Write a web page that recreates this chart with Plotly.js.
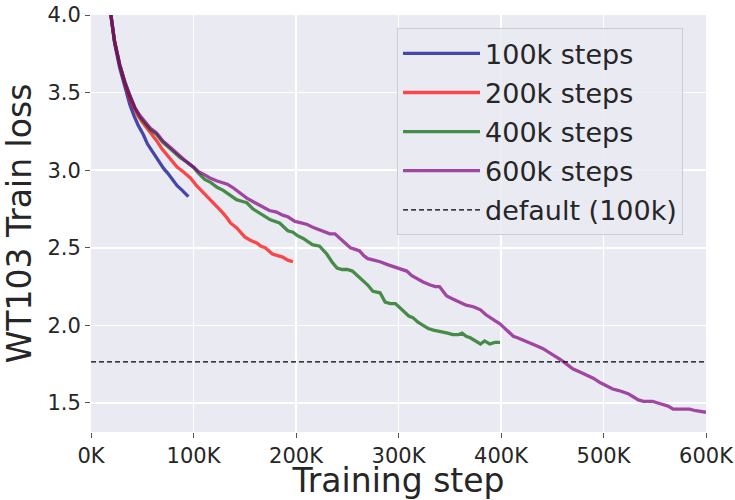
<!DOCTYPE html>
<html>
<head>
<meta charset="utf-8">
<script src="https://cdn.plot.ly/plotly-3.0.1.min.js"></script>
<style>
  html, body { margin: 0; padding: 0; background: #ffffff; }
  #chart { width: 735px; height: 500px; }
</style>
</head>
<body>
<div id="chart"></div>
<script>
// WT103 training loss for different schedule lengths (x in thousands of steps)
const steps100k = [19, 23, 28, 33, 38, 42, 46, 51, 55, 60, 64, 67, 71, 75, 80, 84, 89, 95];
const loss100k  = [4.02, 3.82, 3.66, 3.53, 3.42, 3.35, 3.29, 3.23, 3.17, 3.12, 3.08, 3.05, 3.01, 2.98, 2.94, 2.90, 2.87, 2.83];

const steps200k = [19, 23, 28, 33, 38, 42, 45, 50, 56, 60, 64, 69, 74, 79, 84, 90, 97, 103, 109, 116, 121, 128, 133, 136, 142, 146, 150, 155, 162, 166, 170, 177, 182, 187, 192, 197];
const loss200k  = [4.02, 3.83, 3.68, 3.56, 3.46, 3.40, 3.36, 3.31, 3.26, 3.22, 3.19, 3.14, 3.10, 3.06, 3.02, 2.99, 2.95, 2.90, 2.86, 2.81, 2.78, 2.73, 2.69, 2.66, 2.63, 2.60, 2.57, 2.55, 2.53, 2.51, 2.50, 2.46, 2.45, 2.44, 2.42, 2.41];

const steps400k = [19, 23, 28, 33, 38, 43, 48, 53, 58, 64, 70, 77, 82, 87, 94, 100, 105, 111, 117, 123, 129, 133, 142, 147, 152, 158, 163, 167, 175, 184, 192, 197, 201, 207, 211, 216, 223, 230, 235, 240, 245, 250, 255, 260, 264, 270, 275, 282, 287, 292, 297, 302, 306, 310, 314, 319, 324, 329, 334, 343, 348, 353, 358, 362, 366, 370, 375, 380, 384, 389, 394, 399];
const loss400k  = [4.02, 3.83, 3.68, 3.57, 3.48, 3.40, 3.34, 3.30, 3.26, 3.23, 3.18, 3.14, 3.11, 3.08, 3.05, 3.02, 2.98, 2.94, 2.92, 2.89, 2.87, 2.85, 2.81, 2.80, 2.79, 2.75, 2.73, 2.71, 2.68, 2.66, 2.61, 2.60, 2.58, 2.56, 2.54, 2.52, 2.51, 2.46, 2.41, 2.37, 2.36, 2.36, 2.35, 2.32, 2.30, 2.26, 2.22, 2.21, 2.15, 2.14, 2.14, 2.11, 2.08, 2.06, 2.05, 2.02, 2.00, 1.98, 1.97, 1.96, 1.95, 1.94, 1.94, 1.95, 1.93, 1.92, 1.90, 1.88, 1.90, 1.88, 1.89, 1.89];

const steps600k = [19, 23, 28, 33, 38, 43, 48, 53, 58, 64, 70, 77, 82, 87, 94, 100, 105, 111, 116, 123, 133, 138, 142, 147, 152, 160, 168, 174, 181, 187, 192, 199, 205, 211, 217, 221, 227, 233, 238, 243, 248, 253, 258, 262, 266, 270, 276, 282, 290, 299, 308, 313, 318, 324, 331, 336, 340, 344, 347, 353, 360, 366, 373, 380, 385, 389, 394, 399, 405, 412, 416, 420, 428, 434, 441, 446, 451, 458, 464, 470, 477, 484, 490, 497, 503, 509, 515, 519, 524, 529, 534, 539, 544, 548, 553, 558, 563, 568, 574, 580, 584, 590, 597, 600];
const loss600k  = [4.02, 3.83, 3.68, 3.57, 3.48, 3.40, 3.35, 3.31, 3.27, 3.24, 3.19, 3.15, 3.12, 3.09, 3.05, 3.02, 2.99, 2.97, 2.95, 2.93, 2.91, 2.89, 2.87, 2.84, 2.82, 2.79, 2.76, 2.74, 2.73, 2.71, 2.70, 2.67, 2.66, 2.65, 2.63, 2.62, 2.61, 2.59, 2.59, 2.56, 2.53, 2.50, 2.49, 2.48, 2.45, 2.43, 2.42, 2.41, 2.39, 2.37, 2.35, 2.32, 2.30, 2.28, 2.26, 2.25, 2.25, 2.22, 2.19, 2.17, 2.15, 2.13, 2.12, 2.10, 2.07, 2.05, 2.03, 2.01, 1.97, 1.93, 1.92, 1.91, 1.89, 1.87, 1.85, 1.83, 1.81, 1.78, 1.75, 1.72, 1.70, 1.68, 1.66, 1.63, 1.61, 1.59, 1.58, 1.57, 1.56, 1.54, 1.52, 1.51, 1.51, 1.51, 1.50, 1.49, 1.48, 1.46, 1.46, 1.46, 1.46, 1.45, 1.44, 1.44];

// final loss of the default 100k-step run, shown as a reference line
const defaultSpan = [0, 600];
const defaultLoss = [1.765, 1.765];

const seriesNames = ['100k steps', '200k steps', '400k steps', '600k steps', 'default (100k)'];

const xTickVals = [0, 100, 200, 300, 400, 500, 600];
const xTickText = ['0K', '100K', '200K', '300K', '400K', '500K', '600K'];
const yTickVals = [1.5, 2.0, 2.5, 3.0, 3.5, 4.0];
const yTickText = ['1.5', '2.0', '2.5', '3.0', '3.5', '4.0'];

const FONT = 'DejaVu Sans, sans-serif';
const INK = '#262626';

function run(x, y, name, color) {
  return {
    x: x, y: y, name: name, type: 'scatter', mode: 'lines',
    legendgroup: name,
    line: { color: color, width: 3.3 }
  };
}

const traces = [
  run(steps100k, loss100k, seriesNames[0], 'rgba(0,0,139,0.7)'),
  run(steps200k, loss200k, seriesNames[1], 'rgba(255,0,0,0.7)'),
  run(steps400k, loss400k, seriesNames[2], 'rgba(0,100,0,0.7)'),
  run(steps600k, loss600k, seriesNames[3], 'rgba(128,0,128,0.7)'),
  {
    x: defaultSpan, y: defaultLoss, name: seriesNames[4], type: 'scatter', mode: 'lines',
    legendgroup: seriesNames[4],
    line: { color: '#000000', width: 1.3, dash: '5px,3px' }
  }
];

const layout = {
  width: 735, height: 500,
  margin: { l: 91, r: 29, t: 15, b: 68, pad: 0 },
  paper_bgcolor: '#ffffff',
  plot_bgcolor: '#eaeaf2',
  font: { family: FONT, color: INK },
  showlegend: true,
  legend: {
    x: 0.4976, y: 0.968, xanchor: 'left', yanchor: 'top',
    bgcolor: 'rgba(234,234,242,0.8)',
    bordercolor: '#cccccc', borderwidth: 1,
    font: { family: FONT, size: 27, color: INK },
    tracegroupgap: 1,
    itemwidth: 77
  },
  xaxis: {
    range: [0, 600],
    tickvals: xTickVals, ticktext: xTickText,
    ticks: 'outside', ticklen: 5, tickwidth: 1, tickcolor: '#555555',
    tickfont: { family: FONT, size: 21, color: INK },
    showgrid: true, gridcolor: '#ffffff', gridwidth: 1.5,
    zeroline: false, showline: false,
    title: { text: 'Training step', font: { family: FONT, size: 33, color: INK }, standoff: 9 }
  },
  yaxis: {
    range: [1.313, 4.0],
    tickvals: yTickVals, ticktext: yTickText,
    ticks: 'outside', ticklen: 5, tickwidth: 1, tickcolor: '#555555',
    tickfont: { family: FONT, size: 21, color: INK },
    showgrid: true, gridcolor: '#ffffff', gridwidth: 1.5,
    zeroline: false, showline: false,
    title: { text: 'WT103 Train loss', font: { family: FONT, size: 33, color: INK }, standoff: 6 }
  }
};

Plotly.newPlot('chart', traces, layout, { staticPlot: true, displayModeBar: false });
</script>
</body>
</html>
